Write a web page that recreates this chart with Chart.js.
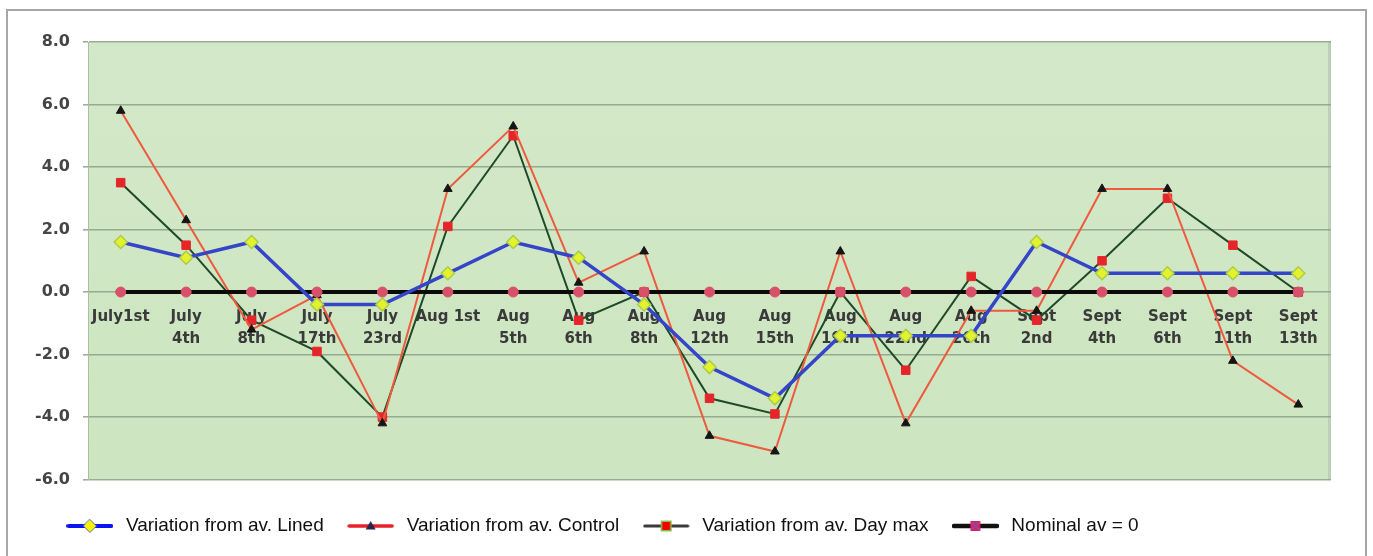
<!DOCTYPE html>
<html>
<head>
<meta charset="utf-8">
<script src="https://cdn.jsdelivr.net/npm/chart.js@4.4.1/dist/chart.umd.min.js"></script>
<style>
  html, body { margin: 0; padding: 0; background: #fff; overflow: hidden; }
  #frame { position: absolute; left: 6px; top: 9px; width: 1357px; height: 546px;
           border: 2px solid #a6a6a6; border-bottom: none; }
  #wrap { position: absolute; left: 0; top: 0; width: 1373px; height: 556px; }
</style>
</head>
<body>
<div id="frame"></div>
<div id="wrap"><canvas id="chart" width="1373" height="556"></canvas></div>
<script>
// Sampling dates (multi-line labels)
const dates = [
  ['July1st'], ['July', '4th'], ['July', '8th'], ['July', '17th'], ['July', '23rd'],
  ['Aug 1st'], ['Aug', '5th'], ['Aug', '6th'], ['Aug', '8th'], ['Aug', '12th'],
  ['Aug', '15th'], ['Aug', '19th'], ['Aug', '22nd'], ['Aug', '26th'], ['Sept', '2nd'],
  ['Sept', '4th'], ['Sept', '6th'], ['Sept', '11th'], ['Sept', '13th']
];

// Variation from the average for each series
const linedVar   = [1.6, 1.1, 1.6, -0.4, -0.4, 0.6, 1.6, 1.1, -0.4, -2.4, -3.4, -1.4, -1.4, -1.4, 1.6, 0.6, 0.6, 0.6, 0.6];
const controlVar = [5.8, 2.3, -1.2, -0.1, -4.2, 3.3, 5.3, 0.3, 1.3, -4.6, -5.1, 1.3, -4.2, -0.6, -0.6, 3.3, 3.3, -2.2, -3.6];
const dayMaxVar  = [3.5, 1.5, -0.9, -1.9, -4.0, 2.1, 5.0, -0.9, 0.0, -3.4, -3.9, 0.0, -2.5, 0.5, -0.9, 1.0, 3.0, 1.5, 0.0];
const nominalAv  = [0, 0, 0, 0, 0, 0, 0, 0, 0, 0, 0, 0, 0, 0, 0, 0, 0, 0, 0];

const seriesNames = [
  'Variation from av. Lined',
  'Variation from av. Control',
  'Variation from av. Day max',
  'Nominal av = 0'
];

// Y axis range / step
const yMin = -6, yMax = 8, yStep = 2;

// Small legend swatches: a line segment with the series marker in the middle
function swatch(lineColor, lineWidth, drawMarker) {
  const c = document.createElement('canvas');
  c.width = 47; c.height = 16;
  const g = c.getContext('2d');
  g.strokeStyle = lineColor;
  g.lineWidth = lineWidth;
  g.lineCap = 'round';
  g.beginPath(); g.moveTo(2, 8); g.lineTo(45, 8); g.stroke();
  drawMarker(g, 23.5, 8);
  return c;
}
const legendIcons = [
  swatch('#0a14f0', 4, (g, x, y) => {
    g.beginPath(); g.moveTo(x, y - 6.5); g.lineTo(x + 6.5, y); g.lineTo(x, y + 6.5); g.lineTo(x - 6.5, y); g.closePath();
    g.fillStyle = '#fff200'; g.fill(); g.strokeStyle = '#4a6fb0'; g.lineWidth = 1; g.stroke();
  }),
  swatch('#e8202a', 3.5, (g, x, y) => {
    g.beginPath(); g.moveTo(x, y - 5); g.lineTo(x + 5, y + 3.5); g.lineTo(x - 5, y + 3.5); g.closePath();
    g.fillStyle = '#2a2448'; g.fill();
  }),
  swatch('#3a3a3a', 3, (g, x, y) => {
    g.fillStyle = '#8bbf4a'; g.fillRect(x - 5.5, y - 5.5, 11, 11);
    g.fillStyle = '#f00000'; g.fillRect(x - 4, y - 4, 8, 8);
  }),
  swatch('#111111', 4.5, (g, x, y) => {
    g.fillStyle = '#e0205a'; g.fillRect(x - 5, y - 5, 10, 10);
    g.strokeStyle = '#6a5ad0'; g.lineWidth = 1.2;
    g.beginPath(); g.moveTo(x - 3.5, y - 3.5); g.lineTo(x + 3.5, y + 3.5);
    g.moveTo(x + 3.5, y - 3.5); g.lineTo(x - 3.5, y + 3.5); g.stroke();
  })
];

// Green plot-area fill with a soft edge on the right
const plotBackground = {
  id: 'plotBackground',
  beforeDraw(chart) {
    const { ctx, chartArea: a } = chart;
    ctx.save();
    const grad = ctx.createLinearGradient(0, a.top, 0, a.bottom);
    grad.addColorStop(0, '#d3e8c8');
    grad.addColorStop(1, '#cde5c0');
    ctx.fillStyle = grad;
    ctx.fillRect(a.left, a.top, a.right - a.left, a.bottom - a.top);
    ctx.strokeStyle = 'rgba(185,205,178,0.9)';
    ctx.lineWidth = 3;
    ctx.beginPath(); ctx.moveTo(a.right - 1.5, a.top); ctx.lineTo(a.right - 1.5, a.bottom); ctx.stroke();
    ctx.restore();
  }
};

// Indent the legend row a little from the left edge of the canvas
const legendIndent = {
  id: 'legendIndent',
  afterLayout(chart) {
    if (chart.legend) chart.legend.left += 13;
  }
};

new Chart(document.getElementById('chart'), {
  type: 'line',
  data: {
    labels: dates,
    datasets: [
      {
        label: seriesNames[0], data: linedVar, order: 1,
        borderColor: '#3545c8', borderWidth: 3.5,
        pointStyle: 'rectRot', pointRadius: 6.5,
        pointBackgroundColor: '#e4f22e', pointBorderColor: '#a9cc4a', pointBorderWidth: 1.5
      },
      {
        label: seriesNames[1], data: controlVar, order: 3,
        borderColor: '#ee5a3e', borderWidth: 2,
        pointStyle: 'triangle', pointRadius: 5,
        pointBackgroundColor: '#151515', pointBorderColor: '#151515', pointBorderWidth: 1
      },
      {
        label: seriesNames[2], data: dayMaxVar, order: 4,
        borderColor: '#1f4a2a', borderWidth: 2,
        pointStyle: 'rect', pointRadius: 6,
        pointBackgroundColor: '#e4262a', pointBorderColor: '#e4262a', pointBorderWidth: 1
      },
      {
        label: seriesNames[3], data: nominalAv, order: 2,
        borderColor: '#0a0a0a', borderWidth: 4,
        pointStyle: 'circle', pointRadius: 5,
        pointBackgroundColor: '#d8506a', pointBorderColor: '#d8506a', pointBorderWidth: 1
      }
    ]
  },
  options: {
    responsive: false,
    devicePixelRatio: 1,
    animation: false,
    layout: { padding: { left: 30, right: 42, top: 42, bottom: 10.5 } },
    plugins: {
      tooltip: { enabled: false },
      legend: {
        position: 'bottom',
        align: 'start',
        labels: {
          usePointStyle: true,
          pointStyleWidth: 53,
          padding: 20.4,
          color: '#111',
          font: { family: '"Liberation Sans", Arial, sans-serif', size: 19 },
          generateLabels(chart) {
            return chart.data.datasets.map((ds, i) => ({
              text: ds.label,
              datasetIndex: i,
              pointStyle: legendIcons[i],
              fillStyle: 'transparent',
              strokeStyle: 'transparent',
              lineWidth: 0,
              fontColor: '#111',
              hidden: false
            }));
          }
        }
      }
    },
    scales: {
      y: {
        min: yMin, max: yMax,
        ticks: {
          stepSize: yStep,
          padding: 13,
          color: '#454545',
          font: { family: '"DejaVu Sans", sans-serif', size: 16, weight: 'bold' },
          callback: v => Number(v).toFixed(1)
        },
        grid: { color: 'rgba(140,160,134,0.85)', lineWidth: 1.6, tickLength: 5 },
        border: { display: true, color: 'rgba(160,180,152,0.8)', width: 1 },
        afterFit(scale) { scale.width = 58; }
      },
      x: {
        type: 'category',
        position: { y: 0 },
        offset: true,
        grid: { display: false, drawTicks: false },
        border: { display: false },
        ticks: {
          autoSkip: false, maxRotation: 0, minRotation: 0,
          padding: 14,
          color: '#3a3a3a',
          font: { family: '"DejaVu Sans", sans-serif', size: 15, weight: 'bold', lineHeight: 1.45 }
        }
      },
      gap: {
        type: 'category',
        position: 'bottom',
        offset: true,
        grid: { display: false, drawTicks: false },
        border: { display: false },
        ticks: { display: false },
        afterFit(scale) { scale.height = 16.5; }
      }
    }
  },
  plugins: [plotBackground, legendIndent]
});
</script>
</body>
</html>
